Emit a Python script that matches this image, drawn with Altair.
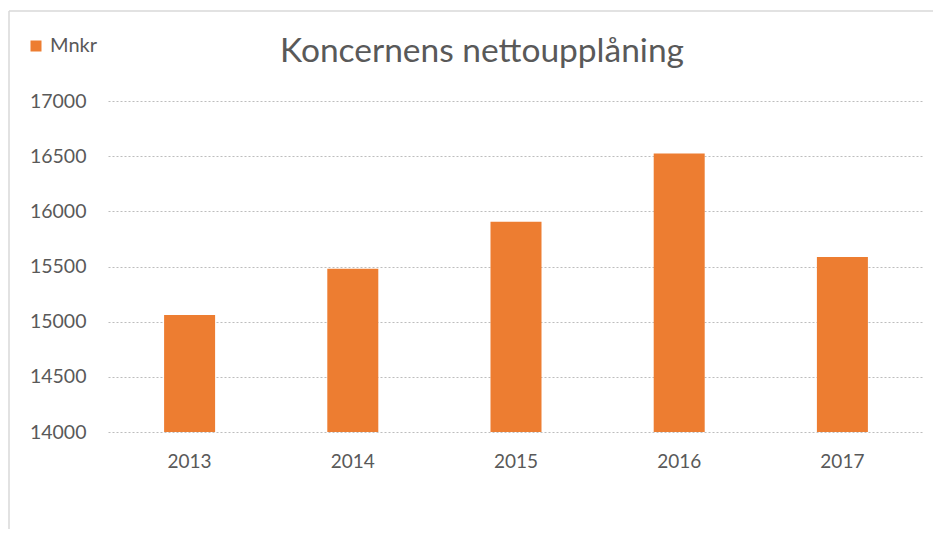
import altair as alt
import pandas as pd

years = ["2013", "2014", "2015", "2016", "2017"]
values = [15060, 15480, 15905, 16525, 15585]
series = ["Mnkr"] * 5
y_ticks = [14000, 14500, 15000, 15500, 16000, 16500, 17000]
title_text = "Koncernens nettoupplåning"

df = pd.DataFrame({"year": years, "value": values, "series": series})
one_df = pd.DataFrame({"a": [0]})

FONT = "Lato"
GREY = "#595959"

bars = alt.Chart(df).mark_bar(color="#ED7D31", clip=True).encode(
    x=alt.X(
        "year:N",
        title=None,
        scale=alt.Scale(paddingInner=0.6875, paddingOuter=0.34375),
        axis=alt.Axis(labelAngle=0, labelFont=FONT, labelFontSize=19, labelColor=GREY,
                      ticks=False, domain=False, grid=False, labelPadding=20),
    ),
    y=alt.Y(
        "value:Q",
        title=None,
        scale=alt.Scale(domain=[14000, 17000], zero=False, nice=False),
        axis=alt.Axis(values=y_ticks, format="d", labelFont=FONT, labelFontSize=19.5,
                      labelColor=GREY, ticks=False, domain=False, labelPadding=22,
                      grid=True, gridColor="#BDBDBD", gridDash=[2, 2], gridWidth=1),
    ),
    color=alt.Color(
        "series:N",
        scale=alt.Scale(range=["#ED7D31"]),
        legend=alt.Legend(title=None, orient="none", legendX=-82, legendY=-65,
                          symbolType="square", symbolSize=121, symbolStrokeWidth=0,
                          labelFont=FONT, labelFontSize=20, labelColor=GREY),
    ),
)

top_line = alt.Chart(one_df).mark_rule(color="#D9D9D9", strokeWidth=1.5).encode(
    x=alt.value(-99), x2=alt.value(900), y=alt.value(-90)
)
left_line = alt.Chart(one_df).mark_rule(color="#D9D9D9", strokeWidth=1.5).encode(
    x=alt.value(-99), y=alt.value(-90), y2=alt.value(500)
)
title = alt.Chart(one_df).mark_text(
    font=FONT, fontSize=33.5, color=GREY, align="center", baseline="alphabetic"
).encode(x=alt.value(374), y=alt.value(-39), text=alt.value(title_text))

chart = alt.layer(top_line, left_line, title, bars).properties(
    width=816,
    height=331,
    autosize=alt.AutoSizeParams(type="none"),
    padding={"left": 100, "top": 93, "right": 9, "bottom": 97},
).configure(background="white", view=alt.ViewConfig(stroke=None))

chart.save("out.html", embed_options={"renderer": "svg", "actions": False})
